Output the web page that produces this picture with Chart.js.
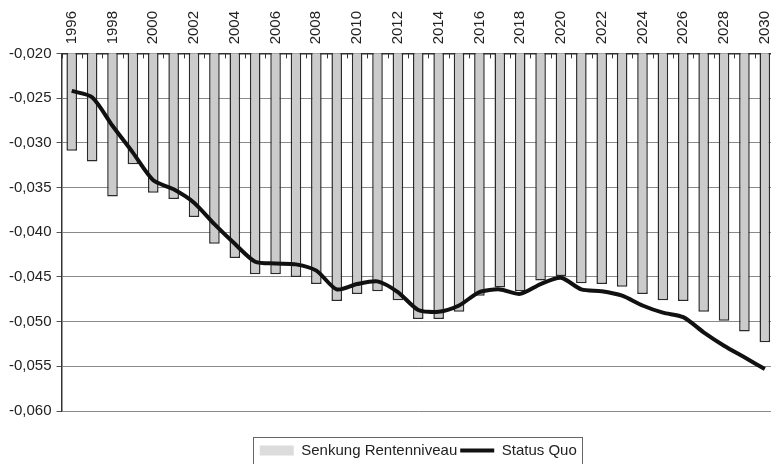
<!DOCTYPE html>
<html>
<head>
<meta charset="utf-8">
<script src="https://cdn.jsdelivr.net/npm/chart.js@4.4.1/dist/chart.umd.min.js"></script>
<style>
  html, body { margin: 0; padding: 0; background: #fff; overflow: hidden; }
</style>
</head>
<body>
<canvas id="chart" width="775" height="464"></canvas>
<script>
const years = ['1996', '1997', '1998', '1999', '2000', '2001', '2002', '2003', '2004', '2005',
    '2006', '2007', '2008', '2009', '2010', '2011', '2012', '2013', '2014', '2015',
    '2016', '2017', '2018', '2019', '2020', '2021', '2022', '2023', '2024', '2025',
    '2026', '2027', '2028', '2029', '2030'];

const senkungRentenniveau = [-0.0309, -0.0321, -0.0360, -0.0324, -0.0356, -0.0363, -0.0383, -0.0413, -0.0429, -0.0447,
    -0.0447, -0.0450, -0.0458, -0.0477, -0.0469, -0.0466, -0.0476, -0.0497, -0.0497, -0.0489,
    -0.0471, -0.0462, -0.0466, -0.0454, -0.0449, -0.0457, -0.0458, -0.0461, -0.0469, -0.0476,
    -0.0477, -0.0489, -0.0499, -0.0511, -0.0523];

const statusQuo = [-0.0242, -0.0249, -0.0281, -0.0311, -0.0342, -0.0352, -0.0367, -0.0391, -0.0413, -0.0433,
    -0.0435, -0.0436, -0.0443, -0.0464, -0.0458, -0.0455, -0.0467, -0.0487, -0.0489, -0.0482,
    -0.0467, -0.0464, -0.0469, -0.0458, -0.0451, -0.0464, -0.0466, -0.0471, -0.0482, -0.0490,
    -0.0495, -0.0512, -0.0527, -0.0540, -0.0553];

const yMin = -0.060;
const yMax = -0.020;
const yStep = 0.005;

const FONT = "'Liberation Sans', Arial, sans-serif";
const legendShift = 29;

// small tick marks pointing into the plot, plus the legend frame
const extras = {
    id: 'extras',
    afterLayout(chart) {
        let lg = chart.legend;
        let area = chart.chartArea;
        lg.left = area.left;
        lg.right = area.right;
        lg.width = lg.right - lg.left;
        lg.top += legendShift;
        lg.bottom += legendShift;
    },
    afterDatasetsDraw(chart) {
        let ctx = chart.ctx;
        let x = chart.scales.x;
        let top = chart.chartArea.top;
        ctx.save();
        ctx.strokeStyle = '#333';
        ctx.lineWidth = 1;
        for (let i = 0; i <= years.length; i++) {
            let px = Math.round(x.getPixelForValue(i - 0.5)) + 0.5;
            ctx.beginPath();
            ctx.moveTo(px, top);
            ctx.lineTo(px, top + 5);
            ctx.stroke();
        }
        ctx.restore();
    },
    afterDraw(chart) {
        let boxes = chart.legend.legendHitBoxes;
        if (!boxes || !boxes.length) return;
        let left = Math.min(...boxes.map(b => b.left)) - 7;
        let right = Math.max(...boxes.map(b => b.left + b.width)) + 5;
        let top = Math.min(...boxes.map(b => b.top)) - 6;
        let ctx = chart.ctx;
        ctx.save();
        ctx.strokeStyle = '#666';
        ctx.lineWidth = 1;
        ctx.strokeRect(Math.round(left) + 0.5, Math.round(top) + 0.5, Math.round(right - left), 60);
        ctx.restore();
    }
};

let ctx = document.getElementById('chart').getContext('2d');

new Chart(ctx, {
    type: 'bar',
    data: {
        labels: years,
        datasets: [{
            type: 'bar',
            label: 'Senkung Rentenniveau',
            data: senkungRentenniveau,
            backgroundColor: '#cbcbcb',
            borderColor: '#2a2a2a',
            borderWidth: 1.5,
            borderSkipped: false,
            categoryPercentage: 1,
            barPercentage: 0.52,
            order: 1
        }, {
            type: 'line',
            label: 'Status Quo',
            data: statusQuo,
            borderColor: '#111',
            borderWidth: 4,
            pointRadius: 0,
            tension: 0.25,
            fill: false,
            order: 0
        }]
    },
    options: {
        responsive: false,
        animation: false,
        devicePixelRatio: 1,
        layout: {
            padding: { left: 4, top: 2, right: 0, bottom: 25 }
        },
        scales: {
            x: {
                position: 'top',
                offset: true,
                afterFit: function (scale) {
                    scale.paddingRight = 0;
                },
                grid: { display: true, drawOnChartArea: false, drawTicks: false },
                border: { display: true, color: '#333', width: 1.5 },
                ticks: {
                    autoSkip: false,
                    minRotation: 90,
                    maxRotation: 90,
                    padding: 9,
                    labelOffset: 18,
                    color: '#222',
                    font: { family: FONT, size: 15 },
                    callback: function (value, index) {
                        return Number(years[index]) % 2 === 0 ? years[index] : '';
                    }
                }
            },
            y: {
                min: yMin,
                max: yMax,
                grid: { color: '#8a8a8a', lineWidth: 1, tickLength: 5, tickColor: '#555' },
                border: { display: true, color: '#333', width: 1.5 },
                ticks: {
                    stepSize: yStep,
                    padding: 5,
                    color: '#222',
                    font: { family: FONT, size: 15 },
                    callback: function (value) {
                        return value.toFixed(3).replace('.', ',');
                    }
                }
            }
        },
        plugins: {
            tooltip: { enabled: false },
            legend: {
                position: 'bottom',
                labels: {
                    usePointStyle: true,
                    pointStyleWidth: 34,
                    boxHeight: 10,
                    padding: 3,
                    color: '#222',
                    font: { family: FONT, size: 15 },
                    generateLabels: function () {
                        return [{
                            text: 'Senkung Rentenniveau',
                            fillStyle: '#dcdcdc',
                            strokeStyle: 'rgba(0,0,0,0)',
                            lineWidth: 0,
                            pointStyle: 'rect',
                            fontColor: '#222',
                            datasetIndex: 0
                        }, {
                            text: 'Status Quo',
                            fillStyle: '#111',
                            strokeStyle: '#111',
                            lineWidth: 4,
                            pointStyle: 'line',
                            fontColor: '#222',
                            datasetIndex: 1
                        }];
                    }
                }
            }
        }
    },
    plugins: [extras]
});
</script>
</body>
</html>
